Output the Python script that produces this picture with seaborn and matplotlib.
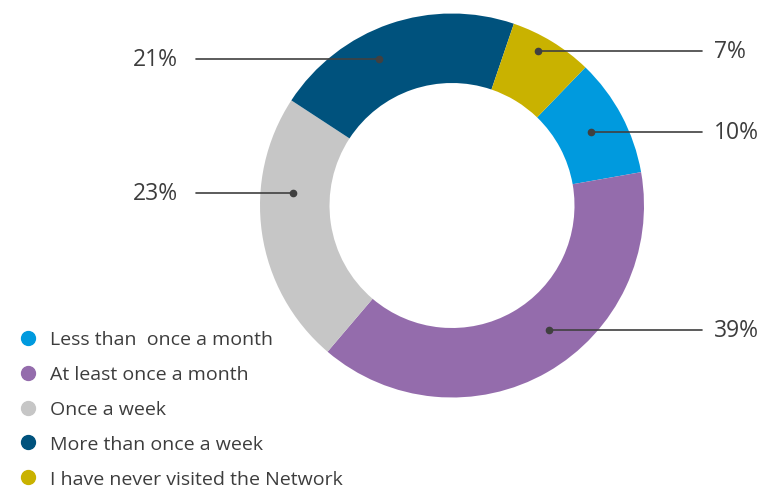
import numpy as np
import matplotlib
matplotlib.use("Agg")
import matplotlib.pyplot as plt
from matplotlib.lines import Line2D
import seaborn as sns

# data (legend order, drawn clockwise)
categories = ["Less than  once a month", "At least once a month", "Once a week",
              "More than once a week", "I have never visited the Network"]
shares = [10, 39, 23, 21, 7]
pct_labels = ["10%", "39%", "23%", "21%", "7%"]
colors = ["#009ADE", "#946CAC", "#C6C6C6", "#00527D", "#C9B200"]

# label layout: anchor angle (deg clockwise from top), anchor radius, side
anchor_ang = [62.2, 142.1, 274.4, 333.6, 29.1]
anchor_rad = [156.8, 158.4, 159.8, 163.3, 177.2]
side = ["r", "r", "l", "l", "r"]

sns.set_theme(style="white")
plt.rcParams["font.family"] = ["Open Sans", "DejaVu Sans"]
txt = "#3d3d3d"

W, H = 763, 489
fig = plt.figure(figsize=(W / 100, H / 100), dpi=100)
ax = fig.add_axes([0, 0, 1, 1])

cx, cy, R = 452, H - 206.5, 192
ax.pie(shares, colors=colors, startangle=46, counterclock=False,
       center=(cx, cy), radius=R, wedgeprops=dict(width=R * 0.362, linewidth=0),
       frame=True)
ax.set_xlim(0, W)
ax.set_ylim(0, H)
ax.axis("off")

for lab, a, r, s in zip(pct_labels, anchor_ang, anchor_rad, side):
    t = np.deg2rad(a)
    px, py = cx + r * np.sin(t), cy + r * np.cos(t)
    ax.plot(px, py, "o", color="#404040", ms=4.5, zorder=5)
    if s == "r":
        ax.plot([px, 702], [py, py], color="#404040", lw=1.2, zorder=4)
        ax.text(714, py, lab, ha="left", va="center", fontsize=16.5, color=txt)
    else:
        ax.plot([196, px], [py, py], color="#404040", lw=1.2, zorder=4)
        ax.text(178, py, lab, ha="right", va="center", fontsize=16.5, color=txt)

handles = [Line2D([], [], marker="o", ls="", color=c, markersize=10) for c in colors]
ax.legend(handles, categories, loc="upper left", bbox_to_anchor=(0.015, 0.338),
          frameon=False, fontsize=14, labelcolor=txt, handlelength=0.95,
          handletextpad=0.65, labelspacing=0.87, borderaxespad=0)

fig.savefig("out.png", dpi=100)
